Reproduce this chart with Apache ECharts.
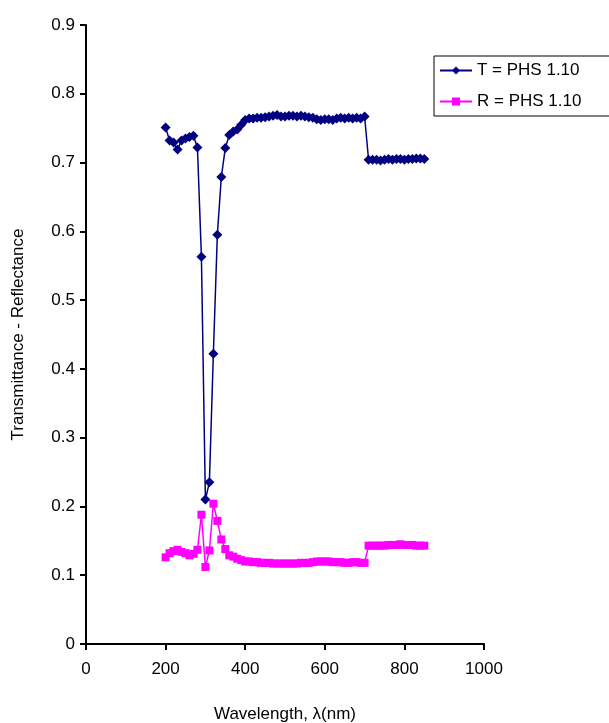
<!DOCTYPE html>
<html>
<head>
<meta charset="utf-8">
<script src="https://cdn.jsdelivr.net/npm/echarts@6/dist/echarts.min.js"></script>
<style>
  html, body { margin: 0; padding: 0; background: #fff; }
  #chart { width: 609px; height: 723px; }
</style>
</head>
<body>
<div id="chart"></div>
<script>
// wavelength (nm)
const wavelength = [
  200, 210, 220, 230, 240, 250, 260, 270, 280, 290,
  300, 310, 320, 330, 340, 350, 360, 370, 380, 390,
  400, 410, 420, 430, 440, 450, 460, 470, 480, 490,
  500, 510, 520, 530, 540, 550, 560, 570, 580, 590,
  600, 610, 620, 630, 640, 650, 660, 670, 680, 690,
  700, 710, 720, 730, 740, 750, 760, 770, 780, 790,
  800, 810, 820, 830, 840, 850
]

// T = PHS 1.10
const transmittance = [
  0.751, 0.732, 0.729, 0.719, 0.732, 0.735, 0.737, 0.739, 0.722, 0.563,
  0.210, 0.235, 0.422, 0.595, 0.679, 0.721, 0.740, 0.745, 0.748, 0.755,
  0.762, 0.764, 0.764, 0.765, 0.765, 0.766, 0.767, 0.768, 0.769, 0.767,
  0.767, 0.768, 0.768, 0.767, 0.768, 0.767, 0.766, 0.765, 0.763, 0.762,
  0.763, 0.763, 0.762, 0.764, 0.765, 0.764, 0.765, 0.764, 0.765, 0.764,
  0.767, 0.704, 0.704, 0.704, 0.703, 0.704, 0.705, 0.704, 0.705, 0.705,
  0.704, 0.705, 0.705, 0.706, 0.706, 0.705
]

// R = PHS 1.10
const reflectance = [
  0.126, 0.132, 0.135, 0.137, 0.134, 0.132, 0.129, 0.131, 0.137, 0.188,
  0.112, 0.136, 0.204, 0.179, 0.152, 0.138, 0.129, 0.127, 0.124, 0.122,
  0.120, 0.120, 0.119, 0.119, 0.118, 0.118, 0.118, 0.117, 0.117, 0.117,
  0.117, 0.117, 0.117, 0.117, 0.118, 0.118, 0.118, 0.119, 0.120, 0.120,
  0.120, 0.120, 0.119, 0.119, 0.119, 0.118, 0.118, 0.119, 0.119, 0.118,
  0.118, 0.143, 0.143, 0.143, 0.143, 0.143, 0.144, 0.144, 0.144, 0.145,
  0.144, 0.144, 0.144, 0.143, 0.143, 0.143
]

const font = "Liberation Sans, Arial, sans-serif"

let myChart = echarts.init(document.getElementById("chart"))
myChart.setOption({
  animation: false,
  backgroundColor: "#fff",
  textStyle: { fontFamily: font },
  grid: { left: 86, right: 125, top: 25, bottom: 79, containLabel: false, outerBoundsMode: "none" },
  legend: {
    left: 434,
    top: 56,
    orient: "vertical",
    borderColor: "#000",
    borderWidth: 1,
    padding: [6, 30, 6, 5],
    itemGap: 14,
    itemWidth: 32,
    itemHeight: 10,
    textStyle: { fontFamily: font, fontSize: 17, color: "#000" },
    data: ["T = PHS 1.10", "R = PHS 1.10"],
  },
  xAxis: {
    type: "value",
    min: 0,
    max: 1000,
    interval: 200,
    name: "Wavelength, λ(nm)",
    nameLocation: "middle",
    nameGap: 62,
    nameTextStyle: { fontFamily: font, fontSize: 17, color: "#000" },
    axisLine: { lineStyle: { color: "#000", width: 2 } },
    axisTick: { inside: false, length: 6, lineStyle: { color: "#000", width: 2 } },
    axisLabel: {
      fontFamily: font,
      fontSize: 17,
      color: "#000",
      margin: 17,
      formatter: (v) => String(v),
    },
    splitLine: { show: false },
  },
  yAxis: {
    type: "value",
    min: 0,
    max: 0.9,
    interval: 0.1,
    name: "Transmittance - Reflectance",
    nameLocation: "middle",
    nameGap: 59,
    nameTextStyle: { fontFamily: font, fontSize: 17, color: "#000" },
    axisLine: { show: true, lineStyle: { color: "#000", width: 2 } },
    axisTick: { show: true, inside: false, length: 6, lineStyle: { color: "#000", width: 2 } },
    axisLabel: {
      fontFamily: font,
      fontSize: 17,
      color: "#000",
      margin: 11,
      formatter: (v) => (v === 0 ? "0" : v.toFixed(1)),
    },
    splitLine: { show: false },
  },
  series: [
    {
      name: "T = PHS 1.10",
      type: "line",
      data: wavelength.map((w, i) => [w, transmittance[i]]),
      symbol: "diamond",
      symbolSize: 10,
      showAllSymbol: true,
      itemStyle: { color: "#000080" },
      lineStyle: { color: "#000080", width: 1.5 },
    },
    {
      name: "R = PHS 1.10",
      type: "line",
      data: wavelength.map((w, i) => [w, reflectance[i]]),
      symbol: "rect",
      symbolSize: 8,
      showAllSymbol: true,
      itemStyle: { color: "#FF00FF" },
      lineStyle: { color: "#FF00FF", width: 1.5 },
    },
  ],
})

window.addEventListener("resize", () => {
  myChart.resize()
})
</script>
</body>
</html>
